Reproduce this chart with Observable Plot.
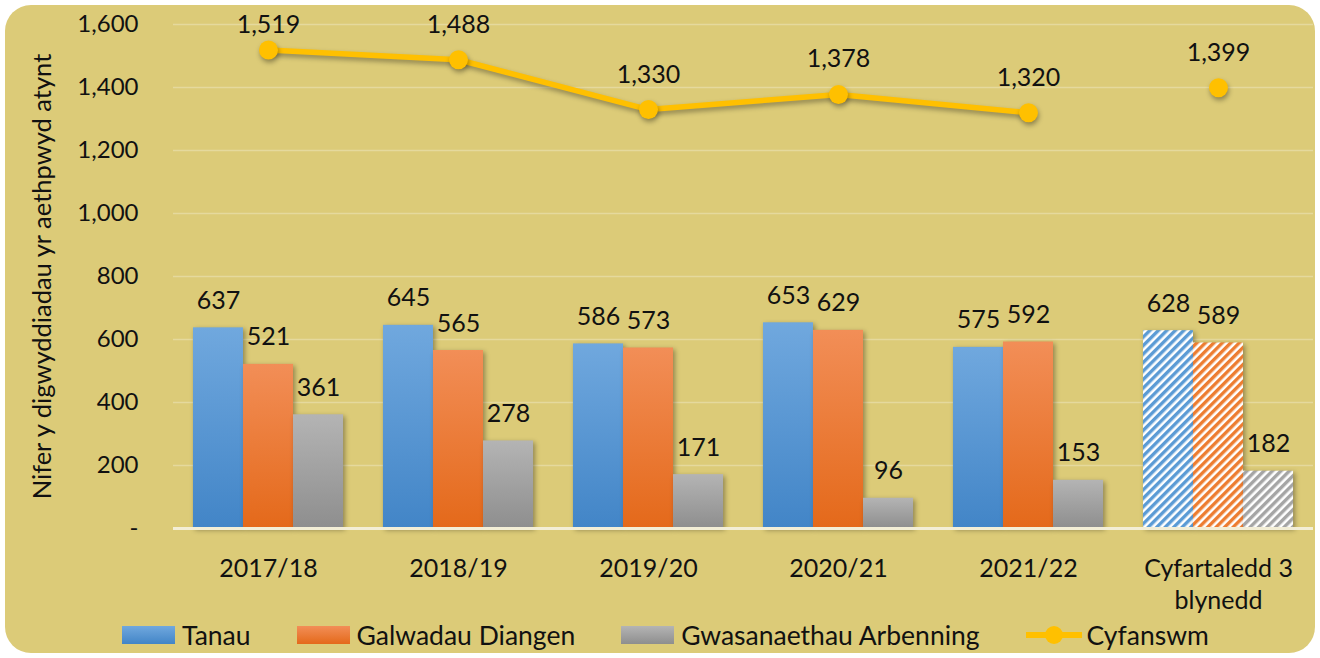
<!DOCTYPE html>
<html>
<head>
<meta charset="utf-8">
<script src="https://cdn.jsdelivr.net/npm/d3@7"></script>
<script src="https://cdn.jsdelivr.net/npm/@observablehq/plot@0.6"></script>
<style>
  html, body { margin: 0; padding: 0; background: #ffffff; }
  #card {
    position: absolute; left: 5px; top: 5px; width: 1310px; height: 648px;
    background: #dccb78; border-radius: 26px; overflow: hidden;
    font-family: Lato, "Open Sans", sans-serif; color: #111;
  }
  #chart { position: absolute; left: 0; top: 0; }
  #legend {
    position: absolute; left: 117px; top: 614px; display: flex; align-items: center;
    font-size: 26.5px; white-space: nowrap;
  }
  .item { display: flex; align-items: center; margin-right: 46px; }
  .sw { width: 53px; height: 18px; margin-right: 7px; }
  .lsw { position: relative; width: 56px; height: 18px; margin-right: 5px; }
  .lsw .ln { position: absolute; left: 0; right: 0; top: 6px; height: 6px; background: #ffc000; }
  .lsw .dt { position: absolute; left: 19px; top: 0; width: 18px; height: 18px; border-radius: 50%; background: #ffc000; }
</style>
</head>
<body>
<div id="card">
  <div id="chart"></div>
  <div id="legend"></div>
</div>
<script>
// ---- data ----
const categories = ["2017/18", "2018/19", "2019/20", "2020/21", "2021/22", "Cyfartaledd 3\nblynedd"];
const series = ["Tanau", "Galwadau Diangen", "Gwasanaethau Arbenning"];
const tanau = [637, 645, 586, 653, 575, 628];
const galwadau = [521, 565, 573, 629, 592, 589];
const gwasanaethau = [361, 278, 171, 96, 153, 182];
const cyfanswm = [1519, 1488, 1330, 1378, 1320, 1399];
const totalLabel = "Cyfanswm";
const yTicks = [0, 200, 400, 600, 800, 1000, 1200, 1400, 1600];
const yTitle = "Nifer y digwyddiadau yr aethpwyd atynt";
const averageIndex = 5; // the 3-year average group is hatched and not joined by the line

// ---- styles ----
const gradStops = [
  ["#70a8de", "#4285c7"],
  ["#f28e57", "#e4691a"],
  ["#b4b4b4", "#8e8e8e"]
];
const hatchColors = ["#5b9bd5", "#ed7d31", "#a5a5a5"];
const lineColor = "#ffc000";
const yMax = 1600;
const totalLabelLift = 111; // label lift above the total points, in y units (clamped to the top)

// ---- table ----
const seriesValues = [tanau, galwadau, gwasanaethau];
const groupWidth = 0.79;
const barW = groupWidth / series.length;
const rows = categories.flatMap((c, i) =>
  seriesValues.map((arr, j) => ({
    i, j, category: c, series: series[j], value: arr[i],
    x1: i - groupWidth / 2 + j * barW,
    x2: i - groupWidth / 2 + (j + 1) * barW,
    xc: i - groupWidth / 2 + (j + 0.5) * barW,
    avg: i === averageIndex
  }))
);
const totals = cyfanswm.map((v, i) => ({ i, value: v, avg: i === averageIndex }));

const fmt = d3.format(",");
const shadow = "drop-shadow(2px 2px 2.5px rgba(0,0,0,0.35))";
const lineShadow = "drop-shadow(1px 3px 2.5px rgba(0,0,0,0.35))";

const barMarks = [];
series.forEach((s, j) => {
  barMarks.push(Plot.rectY(rows.filter(d => d.j === j && !d.avg), {
    x1: "x1", x2: "x2", y: "value", fill: `url(#grad${j})`, imageFilter: shadow
  }));
  barMarks.push(Plot.rectY(rows.filter(d => d.j === j && d.avg), {
    x1: "x1", x2: "x2", y: "value", fill: `url(#hatch${j})`, imageFilter: shadow
  }));
});

const chart = Plot.plot({
  width: 1310,
  height: 605,
  marginLeft: 168,
  marginRight: 2,
  marginTop: 19,
  marginBottom: 82,
  style: { fontFamily: "Lato, 'Open Sans', sans-serif", fontSize: "25px", background: "transparent", color: "#111", overflow: "visible" },
  x: { domain: [-0.5, categories.length - 0.5] },
  y: { domain: [0, yMax] },
  marks: [
    Plot.ruleY(yTicks.slice(1), { stroke: "#ffffff", strokeOpacity: 0.28, strokeWidth: 1.5 }),
    ...barMarks,
    Plot.ruleY([0], { stroke: "#f3eed6", strokeWidth: 3 }),
    Plot.text(rows, { x: "xc", y: "value", text: d => fmt(d.value), dy: -27, fontSize: 25, fill: "#111" }),
    Plot.line(totals.filter(d => !d.avg), { x: "i", y: "value", stroke: lineColor, strokeWidth: 5.5, imageFilter: lineShadow }),
    Plot.dot(totals, { x: "i", y: "value", r: 9.5, fill: lineColor, stroke: "none", imageFilter: lineShadow }),
    Plot.text(totals, { x: "i", y: d => Math.min(d.value + totalLabelLift, yMax), text: d => fmt(d.value), fontSize: 25, fill: "#111" }),
    Plot.axisY({ ticks: yTicks, tickFormat: d => d === 0 ? "-" : fmt(d), tickSize: 0, tickPadding: 35, fontSize: 24,
      label: yTitle, labelAnchor: "center", labelOffset: 141, labelArrow: "none" }),
    Plot.axisX({ ticks: d3.range(categories.length), tickFormat: i => categories[i], tickSize: 0, tickPadding: 25, fontSize: 25, lineHeight: 1.3, label: null })
  ]
});

// defs: gradients and hatch patterns
const svg = d3.select(chart);
const defs = svg.insert("defs", ":first-child");
gradStops.forEach(([top, bottom], j) => {
  const g = defs.append("linearGradient").attr("id", `grad${j}`).attr("x1", 0).attr("y1", 0).attr("x2", 0).attr("y2", 1);
  g.append("stop").attr("offset", "0%").attr("stop-color", top);
  g.append("stop").attr("offset", "100%").attr("stop-color", bottom);
});
hatchColors.forEach((c, j) => {
  const p = defs.append("pattern").attr("id", `hatch${j}`).attr("patternUnits", "userSpaceOnUse")
    .attr("width", 6).attr("height", 6).attr("patternTransform", "rotate(45)");
  p.append("rect").attr("width", 6).attr("height", 6).attr("fill", "#ffffff");
  p.append("rect").attr("width", 3.4).attr("height", 6).attr("fill", c);
});
// y label font
svg.selectAll("g[aria-label='y-axis label']").attr("font-size", 25.5);
svg.selectAll("g[aria-label='y-axis label'] text").attr("font-size", 25.5);

document.getElementById("chart").appendChild(chart);

// legend
const legend = d3.select("#legend");
series.forEach((s, j) => {
  const it = legend.append("div").attr("class", "item");
  it.append("div").attr("class", "sw").style("background", `linear-gradient(${gradStops[j][0]}, ${gradStops[j][1]})`);
  it.append("span").text(s);
});
const lt = legend.append("div").attr("class", "item");
const lsw = lt.append("div").attr("class", "lsw");
lsw.append("div").attr("class", "ln");
lsw.append("div").attr("class", "dt");
lt.append("span").text(totalLabel);
</script>
</body>
</html>
